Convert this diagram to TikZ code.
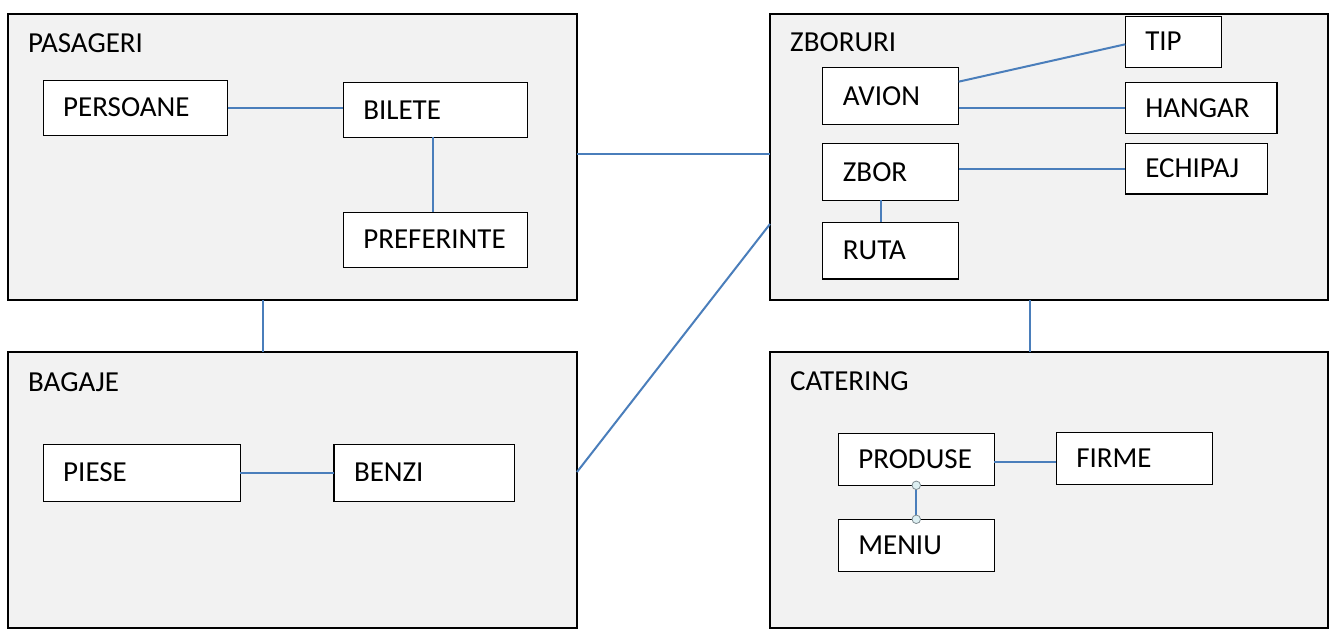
\documentclass[tikz,border=0pt]{standalone}
\usepackage{fontspec}
\setmainfont{Carlito}
\usetikzlibrary{calc}
\definecolor{linkblue}{HTML}{4A7EBB}
\definecolor{panelgray}{HTML}{F2F2F2}
\definecolor{dotfill}{HTML}{DDEFF2}
\definecolor{dotline}{HTML}{7F8C91}
\uchyph=0
\begin{document}
\begin{tikzpicture}[x=1pt,y=-1pt,
  panelbox/.style={draw=black, line width=2pt, fill=panelgray, anchor=north west, inner sep=0pt, outer sep=0pt},
  paneltitle/.style={anchor=base west, inner sep=0pt, font=\fontsize{29}{35}\selectfont},
  entity/.style={draw=black, line width=1.1pt, fill=white, anchor=north west, inner xsep=20pt, inner ysep=0pt, outer sep=0pt,
    text height=18.3pt, text depth=0pt, font=\fontsize{29}{35}\selectfont},
  link/.style={draw=linkblue, line width=2pt},
  jointdot/.style={circle, draw=dotline, fill=dotfill, line width=0.8pt, minimum size=8.5pt, inner sep=0pt}]
\useasboundingbox (0,0) rectangle (1344,644);
\fill[white] (0,0) rectangle (1344,644);

% panels
\node[panelbox, minimum width=569pt, minimum height=286pt] (pasageri) at (8,14) {};
\node[panelbox, minimum width=569pt, minimum height=276pt] (bagaje) at (8,352) {};
\node[panelbox, minimum width=558pt, minimum height=286pt] (zboruri) at (770,14) {};
\node[panelbox, minimum width=558pt, minimum height=276pt] (catering) at (770,352) {};

\node[paneltitle] (pasageri-t) at ($(pasageri.north west)+(20,38.7)$) {PASAGERI};
\node[paneltitle] (bagaje-t) at ($(bagaje.north west)+(20,39)$) {BAGAJE};
\node[paneltitle] (zboruri-t) at ($(zboruri.north west)+(20,38)$) {ZBORURI};
\node[paneltitle] (catering-t) at ($(catering.north west)+(20,38.5)$) {CATERING};

% links between panels
\draw[link] ([yshift=2.5pt]pasageri.east) -- ([yshift=2.5pt]zboruri.west);
\draw[link] ([xshift=-30pt]pasageri.south) -- ([xshift=-30pt]bagaje.north);
\draw[link] ([yshift=18pt]bagaje.east) -- ([yshift=-67pt]zboruri.west);
\draw[link] ([xshift=-19pt]zboruri.south) -- ([xshift=-19pt]catering.north);

% PASAGERI entities
\node[entity, text width=144.5pt, minimum height=55pt] (persoane) at (43.2,80.3) {PERSOANE};
\node[entity, text width=144pt, minimum height=54.6pt] (bilete) at (343.3,82.7) {BILETE};
\node[entity, text width=144pt, minimum height=55pt] (preferinte) at (343.3,212.3) {PREFERINTE};
\draw[link] (persoane.east) -- (persoane.east -| bilete.west);
\draw[link] ([xshift=-2.5pt]bilete.south) -- ([xshift=-2.5pt]preferinte.north);

% ZBORURI entities
\node[entity, text width=95.7pt, minimum height=56.6pt] (avion) at (822.9,67.7) {AVION};
\node[entity, text width=95.7pt, minimum height=56.6pt] (zbor) at (822.9,143.7) {ZBOR};
\node[entity, text width=95.7pt, minimum height=56.7pt] (ruta) at (822.9,222.3) {RUTA};
\node[entity, text width=56pt, minimum height=51pt] (tip) at (1125.3,16.3) {TIP};
\node[entity, text width=111.7pt, minimum height=50.6pt] (hangar) at (1125.3,82.7) {HANGAR};
\node[entity, text width=102pt, minimum height=50.3pt] (echipaj) at (1125.3,143.7) {ECHIPAJ};
\draw[link] ([yshift=14.3pt]avion.east) -- ([yshift=-2.5pt]tip.west);
\draw[link] (hangar.west -| avion.east) -- (hangar.west);
\draw[link] (echipaj.west -| zbor.east) -- (echipaj.west);
\draw[link] ([xshift=-9.5pt]zbor.south) -- ([xshift=-9.5pt]ruta.north);

% BAGAJE entities
\node[entity, text width=157pt, minimum height=57pt] (piese) at (43.2,444.3) {PIESE};
\node[entity, text width=140.4pt, minimum height=57pt] (benzi) at (334,444.3) {BENZI};
\draw[link] (piese.east) -- (piese.east -| benzi.west);

% CATERING entities
\node[entity, text width=116pt, minimum height=51.6pt] (produse) at (838.3,433.7) {PRODUSE};
\node[entity, text width=116.4pt, minimum height=52pt] (firme) at (1056.3,432.3) {FIRME};
\node[entity, text width=116pt, minimum height=52pt] (meniu) at (838.3,519.3) {MENIU};
\draw[link] ([yshift=-2pt]produse.east) -- ([yshift=-2pt]produse.east -| firme.west);
\draw[link] (produse.south) -- (meniu.north);
\node[jointdot] (dot-top) at (produse.south) {};
\node[jointdot] (dot-bottom) at (meniu.north) {};
\end{tikzpicture}
\end{document}
